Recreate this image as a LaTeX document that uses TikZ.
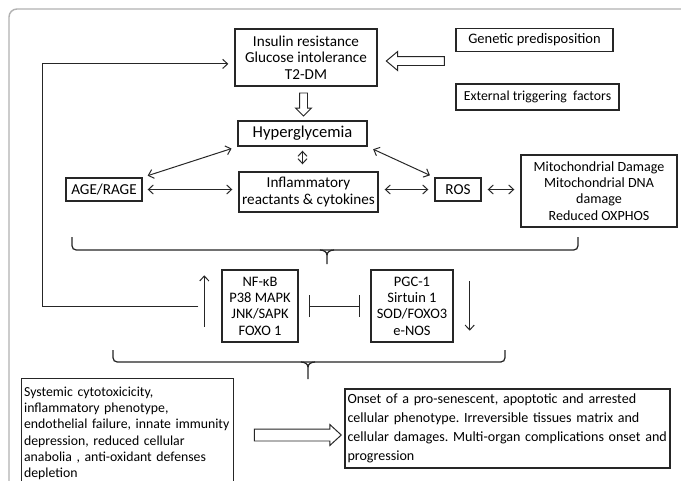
\documentclass[tikz,border=0pt]{standalone}
\usepackage{fontspec}
\setmainfont{Carlito}
\usetikzlibrary{arrows.meta, shapes.arrows}

\begin{document}
\frenchspacing
\begin{tikzpicture}[
    box/.style={rectangle, draw=black!85, line width=1pt, align=center, inner sep=1pt, font=\fontsize{10.3}{11.6}\selectfont},
    textbox/.style={rectangle, draw=black!85, line width=1pt, align=left, inner xsep=0.06cm, font=\fontsize{9.8}{11.6}\selectfont},
    arrow/.style={-{Straight Barb[length=3.5pt,width=6.5pt]}, line width=0.7pt, black!85},
    dbl/.style={{Straight Barb[length=3.5pt,width=6.5pt]}-{Straight Barb[length=3.5pt,width=6.5pt]}, line width=0.7pt, black!85, shorten <=0.15cm, shorten >=0.15cm},
    hollow/.style={single arrow, draw=black!85, line width=0.7pt, single arrow head indent=0pt},
    inhibit/.style={{Bar[width=0.55cm]}-{Bar[width=0.55cm]}, line width=0.7pt, black!85},
    bracket/.style={draw=black!85, line width=0.9pt, rounded corners=3pt}
]

% Page and frame
\useasboundingbox (0,0) rectangle (17.025,-12);
\clip (0,0) rectangle (17.025,-12);
\fill[white] (0,0) rectangle (17.025,-12);
\draw[black!30, line width=1pt, rounded corners=0.2cm] (0.225,-0.225) rectangle (17.6,-12.6);

% Top row
\node[box, font=\fontsize{10.8}{11.6}\selectfont, minimum width=3.55cm, minimum height=1.425cm] (insulin) at (7.65,-1.4375) {Insulin resistance\\Glucose intolerance\\T2-DM};
\node[box, minimum width=3.925cm, minimum height=0.585cm] (genetic) at (13.3625,-1.0) {Genetic predisposition};
\node[box, font=\fontsize{9.8}{11.6}\selectfont, minimum width=4.075cm, minimum height=0.65cm] (external) at (13.4375,-2.425) {External triggering\ \ factors};

% Hollow arrows
\node[hollow, shape border rotate=180, minimum height=1.45cm, inner sep=0.1cm, single arrow head extend=0.125cm, single arrow tip angle=80] (gen2ins) at (10.45,-1.525) {};
\node[hollow, shape border rotate=270, minimum height=0.575cm, inner sep=0.0875cm, single arrow head extend=0.1cm, single arrow tip angle=90] (ins2hyp) at (7.5875,-2.5625) {};

% Hyperglycemia
\node[box, font=\fontsize{11.8}{12}\selectfont, minimum width=3.225cm, minimum height=0.625cm] (hyper) at (7.5625,-3.3375) {Hyperglycemia};

% Middle row
\node[box, font=\fontsize{10.8}{11.6}\selectfont, minimum width=1.9cm, minimum height=0.575cm] (age) at (2.6,-4.7375) {AGE/RAGE};
\node[box, font=\fontsize{10.8}{11.6}\selectfont, minimum width=3.475cm, minimum height=1.0cm] (inflam) at (7.7125,-4.8) {Inflammatory\\reactants \& cytokines};
\node[box, font=\fontsize{10.8}{11.6}\selectfont, minimum width=1.15cm, minimum height=0.575cm] (ros) at (11.45,-4.7375) {ROS};
\node[box, font=\fontsize{10}{11.6}\selectfont, minimum width=3.9cm, minimum height=1.8cm] (mito) at (14.975,-4.775) {Mitochondrial Damage\\Mitochondrial DNA\\damage\\Reduced OXPHOS};

% Arrows between them
\draw[dbl, shorten <=0.1cm, shorten >=0.175cm] (hyper.south) -- (hyper.south |- inflam.north);
\draw[dbl, shorten <=0.13cm] (age.north east) -- (hyper.south west);
\draw[dbl, shorten >=0.12cm] (hyper.south east) -- (ros.north west);
\draw[dbl, shorten <=0.125cm] (age.east) -- (age.east -| inflam.west);
\draw[dbl] (inflam.east |- ros.west) -- (ros.west);
\draw[dbl] (ros.east) -- (ros.east -| mito.west);

% First bracket
\draw[bracket] (1.8,-5.925) -- (1.8,-6.25) -- (14.45,-6.25) -- (14.45,-5.925);
\draw[black!85, line width=0.9pt] (8.0,-6.25) to[out=0,in=90] (8.175,-6.38) -- (8.175,-6.6);
\draw[black!85, line width=0.9pt] (8.35,-6.25) to[out=180,in=90] (8.175,-6.38);

% Pathways
\node[box, minimum width=1.9cm, minimum height=1.8cm] (nf) at (6.5,-7.65) {NF-κB\\P38 MAPK\\JNK/SAPK\\FOXO 1};
\node[box, minimum width=2.05cm, minimum height=1.8cm] (pgc) at (10.3,-7.65) {PGC-1\\Sirtuin 1\\SOD/FOXO3\\e-NOS};
\draw[inhibit] ([xshift=0.25cm]nf.east) -- ([xshift=-0.25cm]pgc.west);
\draw[arrow] ([shift={(-0.425,0.4)}]nf.south west) -- ([shift={(-0.425,-0.15)}]nf.north west);
\draw[arrow] ([shift={(0.4,-0.3)}]pgc.north east) -- ([shift={(0.4,0.3)}]pgc.south east);

% Feedback loop
\coordinate (fb) at ([xshift=-0.575cm]nf.west);
\draw[arrow, shorten >=0.15cm] (fb) -- ++(-3.9,0) |- ([yshift=-0.16cm]insulin.west);

% Second bracket
\draw[bracket] (2.825,-8.75) -- (2.825,-9.05) -- (12.625,-9.05) -- (12.625,-8.75);
\draw[black!85, line width=0.9pt] (7.525,-9.05) to[out=0,in=90] (7.7,-9.18) -- (7.7,-9.475);
\draw[black!85, line width=0.9pt] (7.875,-9.05) to[out=180,in=90] (7.7,-9.18);

% Outcome
\node[textbox, anchor=north west, text width=5.18cm, inner ysep=0.2cm] (effects) at (0.525,-9.45) {\mbox{Systemic cytotoxicicity,}\\\mbox{inflammatory phenotype,}\\\mbox{endothelial failure, innate immunity}\\\mbox{depression, reduced cellular}\\\mbox{anabolia , anti-oxidant defenses}\\\mbox{depletion}};
\node[hollow, minimum height=2.175cm, inner sep=0.1375cm, single arrow head extend=0.1125cm, single arrow tip angle=85] (eff2out) at (7.3625,-10.875) {};
\node[textbox, text width=8.0cm, minimum height=1.975cm, font=\fontsize{10}{13.5}\selectfont] (outcome) at (12.6875,-10.7125) {Onset of a pro-senescent, apoptotic and arrested\\cellular phenotype. Irreversible tissues matrix and\\cellular damages. Multi-organ complications onset and\\progression};

\end{tikzpicture}
\end{document}
